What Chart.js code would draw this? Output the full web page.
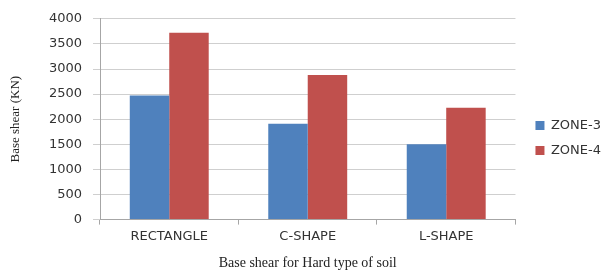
<!DOCTYPE html>
<html>
<head>
<meta charset="utf-8">
<script src="https://cdn.jsdelivr.net/npm/chart.js@4"></script>
<style>
  html, body { margin: 0; padding: 0; background: #fff; }
  #wrap { width: 603px; height: 273px; }
</style>
</head>
<body>
<div id="wrap"><canvas id="shearChart" width="603" height="273"></canvas></div>
<script>
const categories = ["RECTANGLE", "C-SHAPE", "L-SHAPE"];
const zone3 = [2470, 1910, 1500];
const zone4 = [3720, 2880, 2230];
const yTicks = [0, 500, 1000, 1500, 2000, 2500, 3000, 3500, 4000];

const ctx = document.getElementById('shearChart').getContext('2d');

const labelFont = { family: "'DejaVu Sans', sans-serif", size: 13 };
const titleFont = { family: "'Liberation Serif', serif", size: 14 };

// nudge the legend a bit to the right of the plot
const legendShift = {
  id: 'legendShift',
  afterLayout(chart) {
    chart.legend.left += 8;
    chart.legend.right += 8;
  }
};

new Chart(ctx, {
  type: 'bar',
  data: {
    labels: categories,
    datasets: [
      { label: 'ZONE-3', data: zone3, backgroundColor: '#4f81bd' },
      { label: 'ZONE-4', data: zone4, backgroundColor: '#c0504d' }
    ]
  },
  options: {
    responsive: false,
    animation: false,
    devicePixelRatio: 1,
    layout: { padding: { top: 4, left: 4, right: 0, bottom: 1 } },
    datasets: {
      bar: { categoryPercentage: 0.57, barPercentage: 1.0 }
    },
    plugins: {
      tooltip: { enabled: false },
      legend: {
        position: 'right',
        labels: {
          boxWidth: 9,
          boxHeight: 9,
          padding: 12,
          color: '#333',
          font: labelFont
        }
      }
    },
    scales: {
      x: {
        grid: { drawOnChartArea: false, tickLength: 5, color: '#a6a6a6' },
        border: { color: '#a6a6a6' },
        ticks: { color: '#333', font: labelFont, padding: 4 },
        title: { display: true, text: 'Base shear for Hard type of soil', color: '#222', font: titleFont, padding: { top: 7, bottom: 0 } }
      },
      y: {
        min: 0,
        max: 4000,
        afterBuildTicks: scale => { scale.ticks = yTicks.map(v => ({ value: v })); },
        afterFit: scale => { scale.width = 96; },
        grid: { color: '#cfcfcf', tickLength: 7 },
        border: { color: '#a6a6a6' },
        ticks: { color: '#333', font: labelFont, padding: 11, callback: v => String(v) },
        title: { display: true, text: 'Base shear (KN)', color: '#222', font: { family: "'Liberation Serif', serif", size: 13 } }
      }
    }
  },
  plugins: [legendShift]
});
</script>
</body>
</html>
